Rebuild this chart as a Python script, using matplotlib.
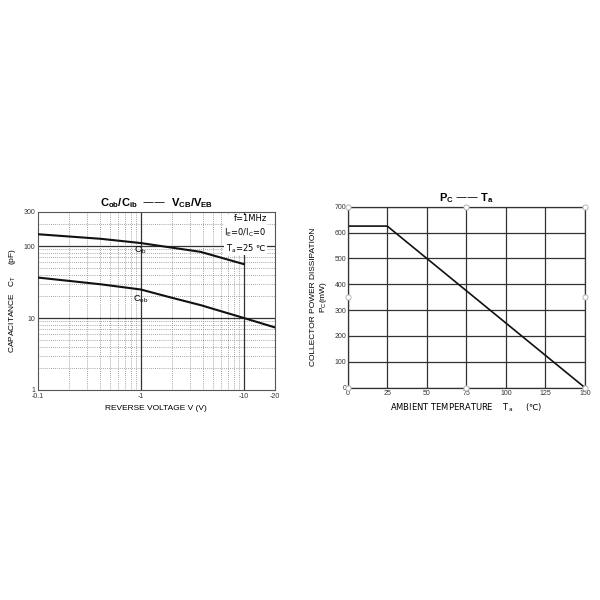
import matplotlib
matplotlib.use("Agg")
import matplotlib.pyplot as plt
import matplotlib.ticker as mticker

plt.rcParams['font.family'] = ['Liberation Sans', 'DejaVu Sans', 'Noto Sans CJK SC']
plt.rcParams['mathtext.default'] = 'regular'

# capacitance vs reverse voltage (abs value of V)
cib_v = [0.1, 0.41, 1.0, 3.8, 10.0]
cib_c = [146, 126, 110, 83, 56]
cob_v = [0.1, 0.41, 1.0, 1.95, 3.8, 10.0, 20.0]
cob_c = [36.5, 29.4, 24.9, 19.3, 15.1, 10.0, 7.4]
cap_yticks = [1, 10, 100, 300]
cap_xticks = [0.1, 1, 10, 20]
cap_xlabels = ['-0.1', '-1', '-10', '-20']

# power dissipation vs ambient temperature
ta = [0, 25, 150]
pc = [625, 625, 0]
ta_ticks = [0, 25, 50, 75, 100, 125, 150]
pc_ticks = [0, 100, 200, 300, 400, 500, 600, 700]

fig = plt.figure(figsize=(6, 6), dpi=100)
fig.patch.set_facecolor('white')

# ---- left chart ----
ax1 = fig.add_axes([37.7 / 600, 1 - 390 / 600, 237.3 / 600, 178.3 / 600])
ax1.set_xscale('log')
ax1.set_yscale('log')
ax1.set_xlim(0.1, 20)
ax1.set_ylim(1, 300)
ax1.plot(cib_v, cib_c, color='#111111', lw=1.5, zorder=6)
ax1.plot(cob_v, cob_c, color='#111111', lw=1.5, zorder=6)

ax1.xaxis.set_major_locator(mticker.FixedLocator(cap_xticks))
ax1.xaxis.set_major_formatter(mticker.FixedFormatter(cap_xlabels))
ax1.xaxis.set_minor_locator(mticker.LogLocator(base=10, subs=range(2, 10)))
ax1.xaxis.set_minor_formatter(mticker.NullFormatter())
ax1.yaxis.set_major_locator(mticker.FixedLocator(cap_yticks))
ax1.yaxis.set_major_formatter(mticker.FixedFormatter([str(t) for t in cap_yticks]))
ax1.yaxis.set_minor_locator(mticker.LogLocator(base=10, subs=range(2, 10)))
ax1.yaxis.set_minor_formatter(mticker.NullFormatter())
ax1.grid(which='minor', color='#888888', ls=(0, (1, 1.5)), lw=0.6)
for v in [1, 10]:
    ax1.axvline(v, color='#333333', lw=0.9)
for v in [10, 100]:
    ax1.axhline(v, color='#333333', lw=0.9)
ax1.tick_params(which='both', length=0, labelsize=5, colors='#333333')
ax1.tick_params(axis='x', pad=2.5)
ax1.tick_params(axis='y', pad=2)
for s in ax1.spines.values():
    s.set_color('#555555')
    s.set_linewidth(0.8)

ax1.text(1.0, 88, 'C$_{ib}$', fontsize=6.5, ha='center', va='center')
ax1.text(1.0, 18.5, 'C$_{ob}$', fontsize=6.5, ha='center', va='center')
ax1.text(0.965, 0.985, 'f=1MHz\nI$_{E}$=0/I$_{C}$=0\nT$_{a}$=25 \u2103', transform=ax1.transAxes,
         fontsize=6, ha='right', va='top', linespacing=1.35, family='DejaVu Sans', zorder=5,
         bbox=dict(facecolor='white', edgecolor='none', pad=0.5))
ax1.set_title('C$_{ob}$/C$_{ib}$  \u2014\u2014  V$_{CB}$/V$_{EB}$', fontsize=8, fontweight='bold', pad=4)
ax1.set_xlabel('REVERSE VOLTAGE V (V)', fontsize=6, labelpad=3)
ax1.set_ylabel('CAPACITANCE   C$_{T}$     (pF)', fontsize=6, labelpad=4)

# ---- right chart ----
ax2 = fig.add_axes([347.7 / 600, 1 - 387.7 / 600, 237.3 / 600, 181 / 600])
ax2.set_xlim(0, 150)
ax2.set_ylim(0, 700)
ax2.plot(ta, pc, color='#111111', lw=1.2)
ax2.set_xticks(ta_ticks)
ax2.set_yticks(pc_ticks)
ax2.grid(color='#333333', lw=0.9)
ax2.tick_params(length=0, labelsize=5, pad=1, colors='#333333')
ax2.tick_params(axis='x', pad=2)
for s in ax2.spines.values():
    s.set_color('#333333')
    s.set_linewidth(0.9)

# selection handle circles
hx = [0, 75, 150, 0, 150, 0, 75, 150]
hy = [700, 700, 700, 350, 350, 0, 0, 0]
ax2.scatter(hx, hy, s=14, facecolor='white', edgecolor='#aaaaaa', lw=0.6, zorder=5, clip_on=False)

ax2.set_title('P$_{C}$ \u2014\u2014 T$_{a}$', fontsize=8, fontweight='bold', pad=4)
ax2.set_xlabel('AMBIENT TEMPERATURE    T$_{a}$     (\u2103)', fontsize=6, labelpad=3,
               family='DejaVu Sans')
ax2.set_ylabel('COLLECTOR POWER DISSIPATION\nP$_{C}$(mW)', fontsize=6, labelpad=4)

fig.savefig('out.png', dpi=100, facecolor='white')
